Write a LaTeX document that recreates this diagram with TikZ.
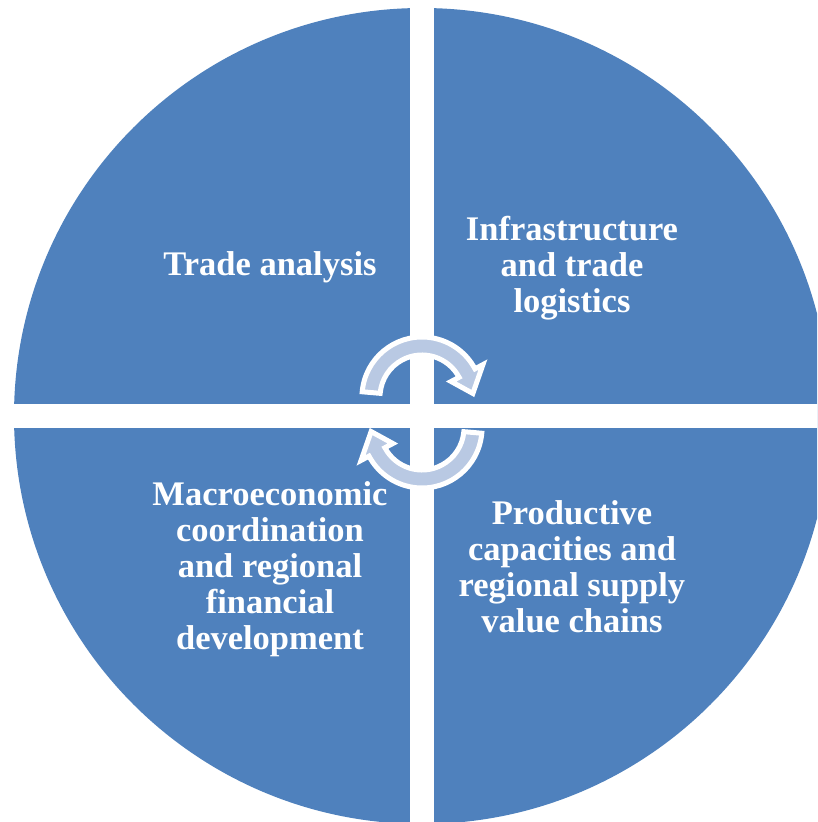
\documentclass[tikz,border=0pt]{standalone}
\usepackage{fontspec}
\setmainfont{Liberation Serif}
\definecolor{quadblue}{RGB}{79,129,189}
\definecolor{loopfill}{RGB}{185,201,227}
\newcommand*{\rad  }{408}
\newcommand*{\hgap }{12}
\newcommand*{\rout }{60}
\newcommand*{\rin  }{42}
% one curved arrow of the cycle: #1 centre, #2 turn
\newcommand*{\looparc}[2]{%
    \draw [looparrow, shift={#1}, rotate=#2] (175:\rout) arc [start angle=175, end angle=28, radius=\rout]
        -- (28:69) -- (4:51) -- (28:33) -- (28:\rin) arc [start angle=28, end angle=175, radius=\rin] -- cycle;}

\begin{document}
\begin{tikzpicture}[x=1pt, y=1pt, font=\bfseries,
    quadtext/.style={text=white, font=\fontsize{34.5}{36}\selectfont\bfseries, align=center},
    looparrow/.style={fill=loopfill, draw=white, line width=5pt, line join=miter}]
    \useasboundingbox (-422,-406) rectangle (395,416);
    \clip (-422,-406) rectangle (395,416);
        \fill [quadblue] (0,0) circle (\rad);
        \fill [white] (-\hgap,-\rad-20) rectangle (\hgap,\rad+20);
        \fill [white] (-\rad-20,-\hgap) rectangle (\rad+20,\hgap);
        \node [quadtext] (trade) at (-152, 149) {Trade analysis};
        \node [quadtext] (infra) at ( 150, 148) {Infrastructure\\and trade\\logistics};
        \node [quadtext] (macro) at (-152,-153) {Macroeconomic\\coordination\\and regional\\financial\\development};
        \node [quadtext] (prod)  at ( 150,-151) {Productive\\capacities and\\regional supply\\value chains};
        \looparc{(0, 19)}{0}
        \looparc{(0,-12)}{180}
        %\draw [red] (0,0) circle (2);
    \end{tikzpicture}
\end{document}
